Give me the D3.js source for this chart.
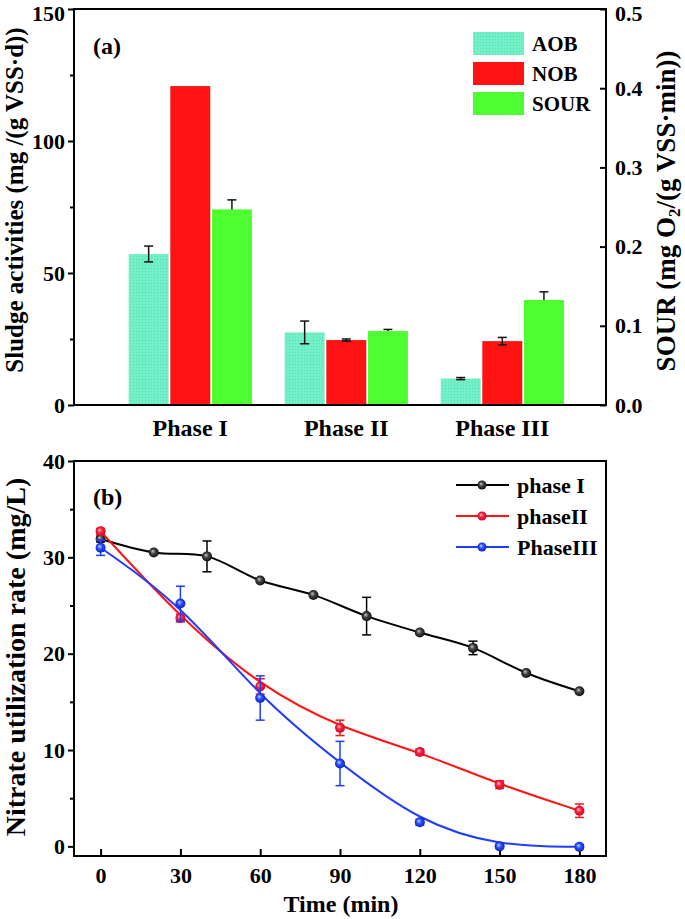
<!DOCTYPE html>
<html>
<head>
<meta charset="utf-8">
<script src="https://cdn.jsdelivr.net/npm/d3@7"></script>
<style>
  body { margin: 0; background: #fff; }
  svg { display: block; }
</style>
</head>
<body>
<script>
// panel (a) data
var phases = ["Phase I", "Phase II", "Phase III"];
var series = ["AOB", "NOB", "SOUR"];
var aob = [57.2, 27.5, 10.0];
var aobErr = [3.0, 4.3, 0.4];
var nob = [120.8, 24.6, 24.2];
var nobErr = [0, 0.4, 1.4];
var sour = [0.247, 0.0934, 0.1326];
var sourErr = [0.012, 0.002, 0.0103];
var leftTicksA = [0, 50, 100, 150];
var rightTicksA = [0, 0.1, 0.2, 0.3, 0.4, 0.5];

// panel (b) data
var timeI = [0, 20, 40, 60, 80, 100, 120, 140, 160, 180];
var phaseI = [31.9, 30.5, 30.1, 27.6, 26.1, 23.9, 22.2, 20.6, 18.0, 16.1];
var phaseIErr = [0.3, 0, 1.6, 0, 0, 1.95, 0, 0.7, 0, 0];
var timeII = [0, 30, 60, 90, 120, 150, 180];
var phaseII = [32.7, 23.7, 16.6, 12.3, 9.8, 6.4, 3.7];
var phaseIIErr = [0.3, 0.4, 0.8, 0.8, 0.3, 0.4, 0.7];
var phaseIII = [31.0, 25.2, 15.4, 8.6, 2.5, 0.0, -0.05];
var phaseIIIErr = [0.8, 1.8, 2.3, 2.3, 0.3, 0.2, 0.2];
var timeTicks = [0, 30, 60, 90, 120, 150, 180];
var leftTicksB = [0, 10, 20, 30, 40];

var font = "'Liberation Serif', 'Times New Roman', serif";

var svg = d3.select("body").append("svg")
    .attr("width", 685)
    .attr("height", 919)
    .style("font-family", font)
    .style("font-weight", "bold");

svg.append("rect").attr("width", 685).attr("height", 919).attr("fill", "#fff");

var defs = svg.append("defs");
var pat = defs.append("pattern")
    .attr("id", "aobPat")
    .attr("width", 3).attr("height", 3)
    .attr("patternUnits", "userSpaceOnUse");
pat.append("rect").attr("width", 3).attr("height", 3).attr("fill", "#72f1c9");
pat.append("rect").attr("x", 1).attr("y", 1).attr("width", 1).attr("height", 1).attr("fill", "#5fd9b2");

function ball(id, c0, c1, c2) {
    var g = defs.append("radialGradient").attr("id", id)
        .attr("fx", "0.38").attr("fy", "0.35").attr("r", "0.6");
    g.append("stop").attr("offset", "0%").attr("stop-color", c0);
    g.append("stop").attr("offset", "40%").attr("stop-color", c1);
    g.append("stop").attr("offset", "100%").attr("stop-color", c2);
}
ball("ballK", "#c8c8c8", "#444", "#000");
ball("ballR", "#ffc8d4", "#ff2040", "#c00018");
ball("ballB", "#c8d4ff", "#2a50ff", "#0018b0");

// ---------- panel (a) ----------
var L = 74, R = 606;
var yA = d3.scaleLinear().domain([0, 150]).range([405, 9]);
var yR = d3.scaleLinear().domain([0, 0.5]).range([405, 9]);
var x0 = d3.scaleBand().domain(phases).range([L, R])
    .paddingInner(0.21).paddingOuter(0.31).align(0.565);
var x1 = d3.scaleBand().domain(series).range([0, x0.bandwidth()]).paddingInner(0.04);

var barColor = {AOB: "url(#aobPat)", NOB: "#ff1212", SOUR: "#4dff30"};

var rows = phases.map(function(p, i) {
    return [
        {phase: p, key: "AOB", y: yA(aob[i]), hi: yA(aob[i] + aobErr[i]), lo: yA(aob[i] - aobErr[i])},
        {phase: p, key: "NOB", y: yA(nob[i]), hi: yA(nob[i] + nobErr[i]), lo: yA(nob[i] - nobErr[i])},
        {phase: p, key: "SOUR", y: yR(sour[i]), hi: yR(sour[i] + sourErr[i]), lo: yR(sour[i])}
    ];
});
var bars = d3.merge(rows);

var gA = svg.append("g");
gA.selectAll("rect.bar")
    .data(bars)
    .enter()
    .append("rect")
    .attr("class", "bar")
    .attr("x", function(d) { return x0(d.phase) + x1(d.key); })
    .attr("y", function(d) { return d.y; })
    .attr("width", x1.bandwidth())
    .attr("height", function(d) { return yA(0) - d.y; })
    .attr("fill", function(d) { return barColor[d.key]; });

var eb = gA.selectAll("g.err")
    .data(bars.filter(function(d) { return d.hi !== d.y; }))
    .enter()
    .append("g")
    .attr("stroke", "#111")
    .attr("stroke-width", 1.5)
    .attr("transform", function(d) { return "translate(" + (x0(d.phase) + x1(d.key) + x1.bandwidth() / 2) + ",0)"; });
eb.append("line").attr("y1", function(d) { return d.hi; }).attr("y2", function(d) { return d.lo; });
eb.append("line").attr("x1", -4.5).attr("x2", 4.5).attr("y1", function(d) { return d.hi; }).attr("y2", function(d) { return d.hi; });
eb.filter(function(d) { return d.key !== "SOUR"; })
    .append("line").attr("x1", -4.5).attr("x2", 4.5).attr("y1", function(d) { return d.lo; }).attr("y2", function(d) { return d.lo; });

function styleAxis(g, size) {
    g.attr("font-family", font).attr("font-size", size).style("font-weight", "bold");
    g.select(".domain").remove();
    g.selectAll(".tick line").attr("stroke", "#000").attr("stroke-width", 2);
    g.selectAll(".tick text").attr("fill", "#000");
}

// top tick labels sit on the upper edge of the picture: nudge them inside
function keepTopIn(g) {
    g.selectAll(".tick text").filter(function(d, i, n) { return i === n.length - 1; })
        .attr("dy", "0.5em");
}

gA.append("g").attr("transform", "translate(" + L + ",0)")
    .call(d3.axisLeft(yA).tickValues(leftTicksA).tickSize(6).tickPadding(3))
    .call(styleAxis, 22)
    .call(keepTopIn);
gA.append("g").attr("transform", "translate(" + L + ",0)")
    .call(d3.axisLeft(yA).tickValues([25, 75, 125]).tickSize(4).tickFormat(""))
    .call(styleAxis, 22);
gA.append("g").attr("transform", "translate(" + R + ",0)")
    .call(d3.axisRight(yR).tickValues(rightTicksA).tickSize(-6).tickPadding(9).tickFormat(d3.format(".1f")))
    .call(styleAxis, 22)
    .call(keepTopIn);
gA.append("g").attr("transform", "translate(0,405)")
    .call(d3.axisBottom(x0).tickSize(0).tickPadding(14))
    .call(styleAxis, 24);

gA.append("rect").attr("x", L).attr("y", 9).attr("width", R - L).attr("height", 396)
    .attr("fill", "none").attr("stroke", "#000").attr("stroke-width", 2);

gA.append("text").attr("x", 93).attr("y", 54).attr("font-size", 24).text("(a)");

gA.append("text")
    .attr("transform", "translate(23,200) rotate(-90)")
    .attr("text-anchor", "middle")
    .attr("font-size", 25)
    .text("Sludge activities (mg /(g VSS\u00b7d))");

var rl = gA.append("text")
    .attr("transform", "translate(675,211) rotate(-90)")
    .attr("text-anchor", "middle")
    .attr("font-size", 27);
rl.append("tspan").text("SOUR (mg O");
rl.append("tspan").attr("font-size", 17).attr("dy", 5).text("2");
rl.append("tspan").attr("dy", -5).text("/(g VSS\u00b7min))");

var legA = gA.append("g").selectAll("g")
    .data(series)
    .enter()
    .append("g")
    .attr("transform", function(d, i) { return "translate(473," + (32 + i * 30) + ")"; });
legA.append("rect").attr("width", 51).attr("height", 23)
    .attr("fill", function(d) { return barColor[d]; });
legA.append("text").attr("x", 59).attr("y", 12).attr("dy", "0.35em")
    .attr("font-size", 21).text(function(d) { return d; });

// ---------- panel (b) ----------
var xT = d3.scaleLinear().domain([-10, 190]).range([L, R]);
var yN = d3.scaleLinear().domain([-1, 40]).range([856, 461]);

var sets = [
    {name: "phase I", t: timeI, v: phaseI, e: phaseIErr, color: "#000", ball: "url(#ballK)", curve: d3.curveCatmullRom},
    {name: "phaseII", t: timeII, v: phaseII, e: phaseIIErr, color: "#ff1414", ball: "url(#ballR)", curve: d3.curveBasis},
    {name: "PhaseIII", t: timeII, v: phaseIII, e: phaseIIIErr, color: "#1f3cff", ball: "url(#ballB)", curve: d3.curveBasis}
];

var gB = svg.append("g");

gB.append("g").attr("transform", "translate(" + L + ",0)")
    .call(d3.axisLeft(yN).tickValues(leftTicksB).tickSize(6).tickPadding(3))
    .call(styleAxis, 22);
gB.append("g").attr("transform", "translate(" + L + ",0)")
    .call(d3.axisLeft(yN).tickValues([5, 15, 25, 35]).tickSize(4).tickFormat(""))
    .call(styleAxis, 22);
gB.append("g").attr("transform", "translate(0,856)")
    .call(d3.axisBottom(xT).tickValues(timeTicks).tickSize(-7).tickPadding(11))
    .call(styleAxis, 22);

sets.forEach(function(s) {
    var pts = s.t.map(function(t, i) { return {t: t, v: s.v[i], e: s.e[i]}; });
    var line = d3.line()
        .x(function(d) { return xT(d.t); })
        .y(function(d) { return yN(d.v); })
        .curve(s.curve);
    gB.append("path").datum(pts)
        .attr("d", line)
        .attr("fill", "none")
        .attr("stroke", s.color)
        .attr("stroke-width", 2);
    var e = gB.append("g").selectAll("g")
        .data(pts.filter(function(d) { return d.e > 0; }))
        .enter()
        .append("g")
        .attr("stroke", s.color)
        .attr("stroke-width", 1.5)
        .attr("transform", function(d) { return "translate(" + xT(d.t) + ",0)"; });
    e.append("line").attr("y1", function(d) { return yN(d.v + d.e); }).attr("y2", function(d) { return yN(d.v - d.e); });
    e.append("line").attr("x1", -4.5).attr("x2", 4.5)
        .attr("y1", function(d) { return yN(d.v + d.e); }).attr("y2", function(d) { return yN(d.v + d.e); });
    e.append("line").attr("x1", -4.5).attr("x2", 4.5)
        .attr("y1", function(d) { return yN(d.v - d.e); }).attr("y2", function(d) { return yN(d.v - d.e); });
    gB.append("g").selectAll("circle")
        .data(pts)
        .enter()
        .append("circle")
        .attr("cx", function(d) { return xT(d.t); })
        .attr("cy", function(d) { return yN(d.v); })
        .attr("r", 5)
        .attr("fill", s.ball);
});

gB.append("rect").attr("x", L).attr("y", 461).attr("width", R - L).attr("height", 395)
    .attr("fill", "none").attr("stroke", "#000").attr("stroke-width", 2);

gB.append("text").attr("x", 93).attr("y", 505).attr("font-size", 24).text("(b)");

gB.append("text")
    .attr("transform", "translate(25,657) rotate(-90)")
    .attr("text-anchor", "middle")
    .attr("font-size", 28)
    .text("Nitrate utilization rate (mg/L)");

gB.append("text")
    .attr("x", 341).attr("y", 912)
    .attr("text-anchor", "middle")
    .attr("font-size", 24)
    .text("Time (min)");

var legB = gB.append("g").selectAll("g")
    .data(sets)
    .enter()
    .append("g")
    .attr("transform", function(d, i) { return "translate(456," + (485 + i * 31) + ")"; });
legB.append("line").attr("x2", 53)
    .attr("stroke", function(d) { return d.color; })
    .attr("stroke-width", 2);
legB.append("circle").attr("cx", 26).attr("r", 4.5)
    .attr("fill", function(d) { return d.ball; });
legB.append("text").attr("x", 61).attr("dy", "0.35em")
    .attr("font-size", 22).text(function(d) { return d.name; });
</script>
</body>
</html>
